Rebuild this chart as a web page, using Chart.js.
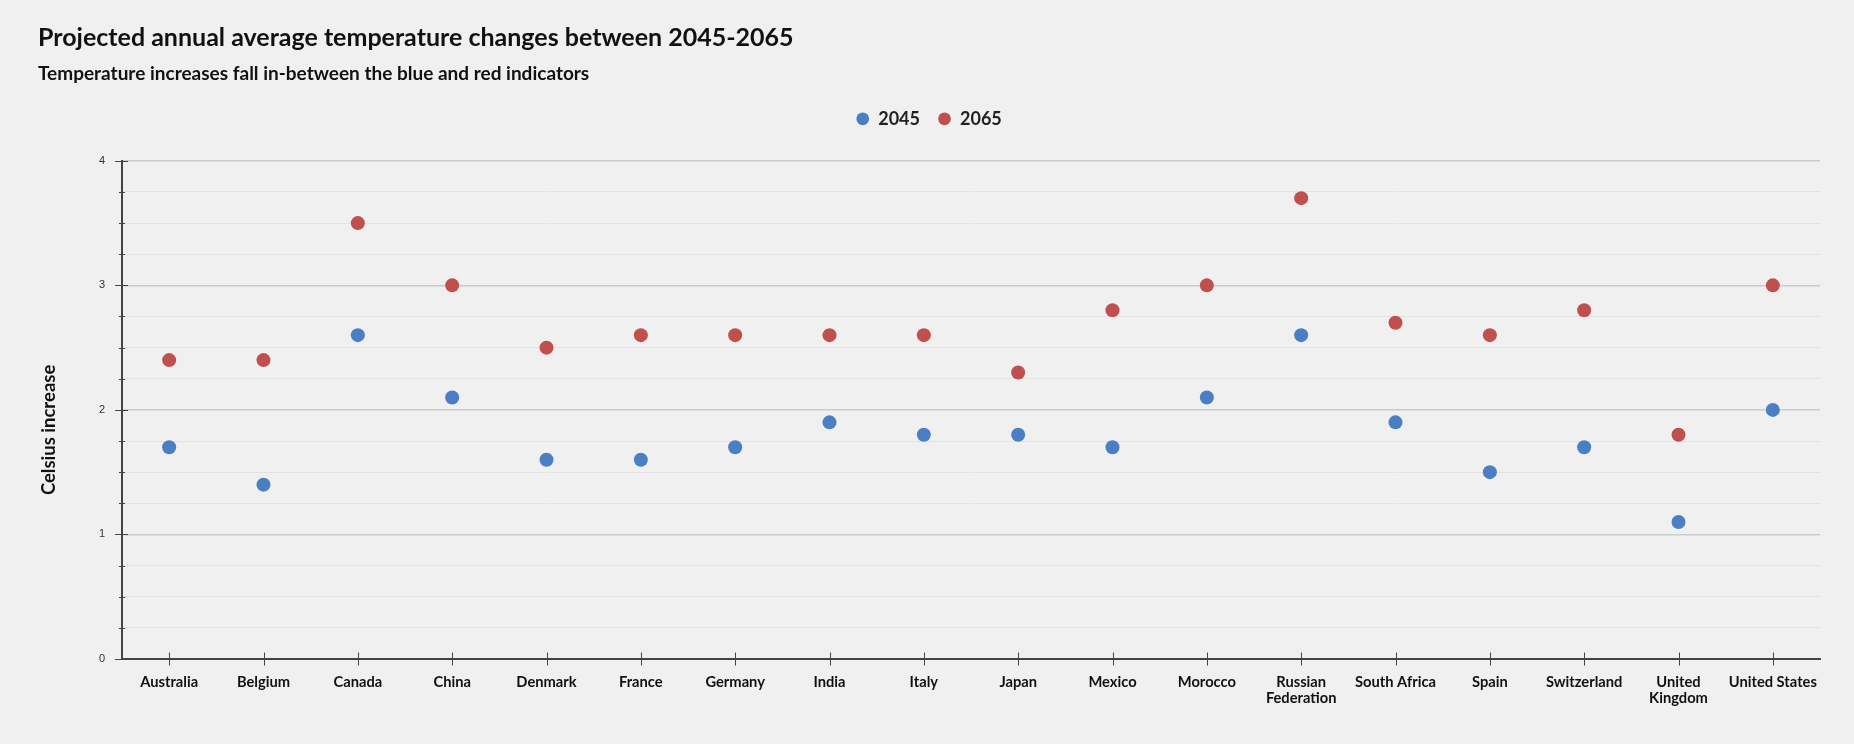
<!DOCTYPE html>
<html>
<head>
<meta charset="utf-8">
<title>Projected annual average temperature changes</title>
<script src="https://cdn.jsdelivr.net/npm/chart.js@4.4.1/dist/chart.umd.min.js"></script>
<style>
  html, body { margin: 0; padding: 0; background: #f0f0f0; }
  #wrap { position: relative; width: 1854px; height: 744px; }
</style>
</head>
<body>
<div id="wrap"><canvas id="tempChart"></canvas></div>
<script>
// Data
const countries = ['Australia', 'Belgium', 'Canada', 'China', 'Denmark', 'France', 'Germany', 'India',
    'Italy', 'Japan', 'Mexico', 'Morocco', ['Russian', 'Federation'], 'South Africa', 'Spain',
    'Switzerland', ['United', 'Kingdom'], 'United States'];
const values2045 = [1.7, 1.4, 2.6, 2.1, 1.6, 1.6, 1.7, 1.9, 1.8, 1.8, 1.7, 2.1, 2.6, 1.9, 1.5, 1.7, 1.1, 2.0];
const values2065 = [2.4, 2.4, 3.5, 3.0, 2.5, 2.6, 2.6, 2.6, 2.6, 2.3, 2.8, 3.0, 3.7, 2.7, 2.6, 2.8, 1.8, 3.0];
const yMin = 0;
const yMax = 4;
const yStep = 0.25;

const BLUE = '#4a7fc4';
const RED = '#c0504d';
const AXIS = '#444444';

Chart.defaults.font.family = 'Lato, "Open Sans", sans-serif';
Chart.defaults.color = '#111';

// Extra room under the legend so the plot starts lower
const legendSpacer = {
    id: 'legendSpacer',
    beforeInit(chart) {
        const origFit = chart.legend.fit;
        chart.legend.fit = function () {
            origFit.call(this);
            this.height += 23;
        };
    }
};

// Tick marks that cross the axis lines, longer at whole degrees
const crossTicks = {
    id: 'crossTicks',
    afterDraw(chart) {
        const { ctx, scales: { x, y } } = chart;
        ctx.save();
        ctx.strokeStyle = AXIS;
        ctx.lineWidth = 1;
        y.ticks.forEach(t => {
            const py = Math.round(y.getPixelForValue(t.value)) + 0.5;
            const major = Number.isInteger(t.value);
            ctx.beginPath();
            ctx.moveTo(y.right - (major ? 7 : 3), py);
            ctx.lineTo(y.right + (major ? 6 : 3), py);
            ctx.stroke();
        });
        const axisY = y.getPixelForValue(yMin);
        x.ticks.forEach((t, i) => {
            const px = Math.round(x.getPixelForTick(i)) + 0.5;
            ctx.beginPath();
            ctx.moveTo(px, axisY - 6.5);
            ctx.lineTo(px, axisY + 6.5);
            ctx.stroke();
        });
        ctx.restore();
    }
};

// Y axis title, sitting a bit below the middle like the original
const yTitle = {
    id: 'yTitle',
    afterDraw(chart) {
        const { ctx, chartArea } = chart;
        ctx.save();
        ctx.translate(49, (chartArea.top + chartArea.bottom) / 2 + 20);
        ctx.rotate(-Math.PI / 2);
        ctx.textAlign = 'center';
        ctx.textBaseline = 'middle';
        ctx.fillStyle = '#111';
        ctx.font = 'bold 18.5px Lato';
        ctx.fillText('Celsius increase', 0, 0);
        ctx.restore();
    }
};

const ctx = document.getElementById('tempChart').getContext('2d');
const tempChart = new Chart(ctx, {
    type: 'line',
    data: {
        labels: countries,
        datasets: [{
            label: '2045',
            data: values2045,
            showLine: false,
            backgroundColor: BLUE,
            borderColor: BLUE,
            pointRadius: 7,
            pointHoverRadius: 7,
            pointBorderWidth: 0
        }, {
            label: '2065',
            data: values2065,
            showLine: false,
            backgroundColor: RED,
            borderColor: RED,
            pointRadius: 7,
            pointHoverRadius: 7,
            pointBorderWidth: 0
        }]
    },
    options: {
        responsive: true,
        maintainAspectRatio: false,
        animation: false,
        devicePixelRatio: 1,
        layout: { padding: { left: 38, right: 34, top: 0, bottom: 0 } },
        plugins: {
            title: {
                display: true,
                text: 'Projected annual average temperature changes between 2045-2065',
                align: 'start',
                color: '#111',
                font: { size: 25, weight: 'bold' },
                padding: { top: 23, bottom: 4 }
            },
            subtitle: {
                display: true,
                text: 'Temperature increases fall in-between the blue and red indicators',
                align: 'start',
                color: '#111',
                font: { size: 19, weight: 'bold' },
                padding: { top: 5, bottom: 7 }
            },
            legend: {
                display: true,
                labels: {
                    usePointStyle: true,
                    pointStyle: 'circle',
                    boxWidth: 13,
                    boxHeight: 9,
                    padding: 18,
                    color: '#222',
                    font: { size: 18, weight: 'bold' }
                }
            },
            tooltip: { enabled: false }
        },
        scales: {
            x: {
                offset: true,
                grid: { display: false, drawTicks: false },
                border: { display: true, color: AXIS, width: 2 },
                ticks: {
                    autoSkip: false,
                    maxRotation: 0,
                    padding: 15,
                    color: '#111',
                    font: { size: 14.7, weight: 'bold', lineHeight: 1.12 }
                },
                afterFit(scale) { scale.height = 85; }
            },
            y: {
                min: yMin,
                max: yMax,
                grid: {
                    drawTicks: false,
                    color: c => Number.isInteger(c.tick.value) ? '#cbcbcb' : '#e3e3e3',
                    lineWidth: c => Number.isInteger(c.tick.value) ? 1.5 : 1
                },
                border: { display: true, color: AXIS, width: 2 },
                ticks: {
                    stepSize: yStep,
                    padding: 17,
                    color: '#333',
                    font: { family: '"Liberation Sans", Arial, sans-serif', size: 11 },
                    callback: v => Number.isInteger(v) ? String(v) : ''
                },
                afterFit(scale) { scale.width = 84; }
            }
        }
    },
    plugins: [legendSpacer, crossTicks, yTitle]
});
</script>
</body>
</html>
